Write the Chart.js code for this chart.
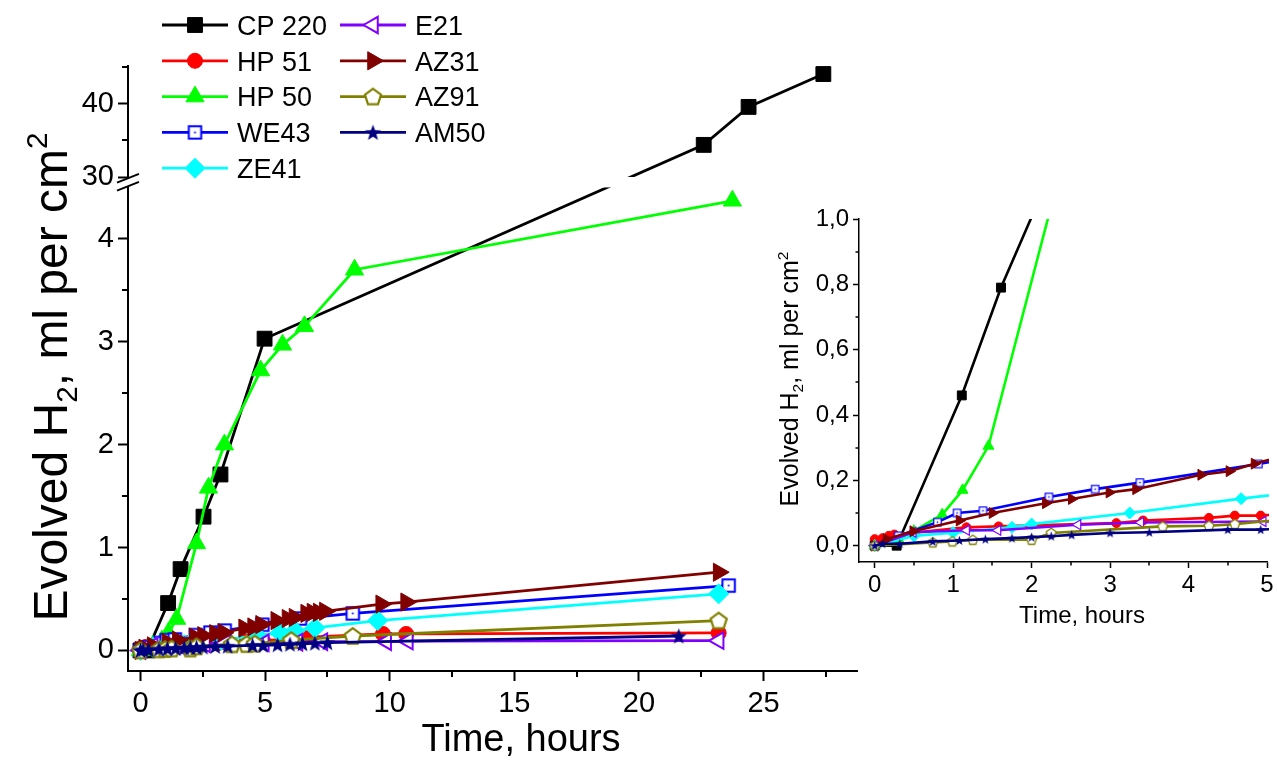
<!DOCTYPE html>
<html>
<head>
<meta charset="utf-8">
<script src="https://cdn.jsdelivr.net/npm/chart.js@4.4.1/dist/chart.umd.min.js"></script>
<style>
  html, body { margin: 0; padding: 0; background: #fff; }
  #wrap { position: relative; width: 1277px; height: 761px; overflow: hidden; }
  #mainChart { position: absolute; left: 0; top: 0; }
  #insetChart { position: absolute; left: 770px; top: 190px; }
</style>
</head>
<body>
<div id="wrap">
  <canvas id="mainChart" width="1277" height="761"></canvas>
  <canvas id="insetChart" width="507" height="450"></canvas>
</div>
<script>
// ==== Data (time in hours, evolved H2 in ml per cm2) ====
const seriesNames = ["CP 220", "HP 51", "HP 50", "WE43", "ZE41", "E21", "AZ31", "AZ91", "AM50"];

const cp220 = [[0, 0], [0.28, 0], [1.11, 0.46], [1.61, 0.79], [2.53, 1.3], [3.21, 1.71], [4.98, 3.03],
  [22.6, 34.4], [24.4, 39.6], [27.4, 44.1]];
const hp51 = [[0, 0.02], [0.1, 0.023], [0.18, 0.03], [0.25, 0.034], [1.17, 0.056], [1.58, 0.059], [3.08, 0.069],
  [3.42, 0.077], [4.26, 0.085], [4.59, 0.092], [4.92, 0.092], [6.7, 0.13], [9.73, 0.16], [10.66, 0.16], [23.2, 0.17]];
const hp50 = [[0, 0], [0.3, 0.02], [0.5, 0.045], [0.86, 0.095], [1.12, 0.17], [1.45, 0.305], [2.25, 1.04],
  [2.73, 1.58], [3.37, 2.0], [4.82, 2.72], [5.7, 2.97], [6.58, 3.15], [8.59, 3.7], [23.75, 4.37]];
const we43 = [[0, 0], [0.3, 0.03], [0.8, 0.072], [1.05, 0.1], [1.38, 0.107], [2.22, 0.149], [2.81, 0.173],
  [3.38, 0.193], [4.89, 0.25], [6.4, 0.31], [8.52, 0.36], [23.6, 0.63]];
const ze41 = [[0, 0], [0.5, 0.03], [1.0, 0.04], [1.75, 0.056], [2.0, 0.066], [3.25, 0.1], [4.67, 0.144],
  [5.6, 0.17], [6.2, 0.19], [7.0, 0.22], [9.52, 0.29], [23.2, 0.55]];
const e21 = [[0, 0], [0.49, 0.041], [1.17, 0.047], [1.57, 0.047], [2.59, 0.064], [3.39, 0.071], [4.95, 0.074],
  [6.3, 0.08], [7.3, 0.085], [9.86, 0.085], [10.73, 0.09], [23.2, 0.095]];
const az31 = [[0, 0], [0.15, 0.02], [0.49, 0.044], [1.08, 0.077], [1.5, 0.1], [2.18, 0.13], [2.51, 0.143],
  [2.99, 0.163], [3.33, 0.173], [4.16, 0.217], [4.52, 0.228], [4.84, 0.251], [5.45, 0.29], [5.9, 0.31],
  [6.18, 0.32], [6.65, 0.36], [6.9, 0.37], [7.15, 0.37], [7.4, 0.38], [9.66, 0.45], [10.66, 0.47], [23.2, 0.76]];
const az91 = [[0, 0], [0.74, 0.01], [0.99, 0.013], [1.25, 0.018], [2.0, 0.018], [2.25, 0.039], [3.67, 0.059],
  [4.26, 0.061], [4.59, 0.066], [6.05, 0.1], [8.52, 0.14], [23.2, 0.29]];
const am50 = [[0, 0], [0.1, 0.006], [0.32, 0.006], [0.74, 0.013], [1.08, 0.016], [1.41, 0.02], [1.75, 0.023],
  [2.0, 0.026], [2.25, 0.029], [2.51, 0.033], [3.0, 0.039], [3.5, 0.041], [4.5, 0.049], [4.92, 0.049],
  [5.5, 0.055], [6.0, 0.06], [6.5, 0.065], [7.0, 0.07], [7.5, 0.075], [21.6, 0.14]];

const seriesData = [cp220, hp51, hp50, we43, ze41, e21, az31, az91, am50];

// ==== Axes ====
const xMainTicks = [0, 5, 10, 15, 20, 25];
const xMainMinor = [2.5, 7.5, 12.5, 17.5, 22.5, 27.5];
const yMainTicks = [0, 1, 2, 3, 4, 30, 40];
const yMainMinor = [0.5, 1.5, 2.5, 3.5, 35, 45];
const yBreak = [4.5, 30];          // axis jumps from 4.5 to 30
const breakShare = [0.7993, 0.0172]; // share of axis height: lower part, gap

const xInsetTicks = [0, 1, 2, 3, 4, 5];
const xInsetMinor = [0.5, 1.5, 2.5, 3.5, 4.5];
const yInsetTicks = [0, 0.2, 0.4, 0.6, 0.8, 1.0];
const yInsetMinor = [0.1, 0.3, 0.5, 0.7, 0.9];

// ==== Styles ====
const FONT = "'Liberation Sans', Arial, sans-serif";
Chart.defaults.font.family = FONT;
Chart.defaults.color = "#000";

const colors = ["#000000", "#ff0000", "#00ff00", "#0000ff", "#00ffff", "#8000ff", "#800000", "#808000", "#000080"];

function makeMarker(kind, r, lw, color) {
  const c = document.createElement("canvas");
  const size = Math.ceil(2 * r + lw + 4);
  c.width = c.height = size;
  const g = c.getContext("2d");
  const m = size / 2;
  g.lineWidth = lw;
  g.strokeStyle = color;
  g.fillStyle = "#fff";
  if (kind === "dotSquare") {
    g.fillRect(m - r, m - r, 2 * r, 2 * r);
    g.strokeRect(m - r, m - r, 2 * r, 2 * r);
    g.fillStyle = color;
    const d = Math.max(1.5, r * 0.28);
    g.fillRect(m - d / 2, m - d / 2, d, d);
  } else if (kind === "pentagon") {
    g.beginPath();
    for (let k = 0; k < 5; k++) {
      const a = -Math.PI / 2 + k * 2 * Math.PI / 5;
      g.lineTo(m + r * Math.cos(a), m + r * Math.sin(a) + r * 0.08);
    }
    g.closePath();
    g.fill();
    g.stroke();
  } else if (kind === "star") {
    g.fillStyle = color;
    g.beginPath();
    for (let k = 0; k < 10; k++) {
      const a = -Math.PI / 2 + k * Math.PI / 5;
      const rr = k % 2 === 0 ? r : r * 0.42;
      g.lineTo(m + rr * Math.cos(a), m + rr * Math.sin(a) + r * 0.08);
    }
    g.closePath();
    g.fill();
  }
  return c;
}

// marker look per series
function markerSet(scale) {
  const lw = 2 * scale;
  return [
    { style: "rect", r: 10.5 * scale, rot: 0, fill: colors[0], bw: 1 },
    { style: "circle", r: 7.5 * scale, rot: 0, fill: colors[1], bw: 1 },
    { style: "triangle", r: 10.5 * scale, rot: 0, fill: colors[2], bw: 1 },
    { style: makeMarker("dotSquare", 6.2 * scale, lw, colors[3]), r: 7 * scale, rot: 0, fill: "#fff", bw: 0 },
    { style: "rectRot", r: 10 * scale, rot: 0, fill: colors[4], bw: 1 },
    { style: "triangle", r: 9.5 * scale, rot: -90, fill: "#fff", bw: lw },
    { style: "triangle", r: 10.5 * scale, rot: 90, fill: colors[6], bw: 1 },
    { style: makeMarker("pentagon", 8.5 * scale, lw * 1.1, colors[7]), r: 8 * scale, rot: 0, fill: "#fff", bw: 0 },
    { style: makeMarker("star", 8.5 * scale, 0, colors[8]), r: 8 * scale, rot: 0, fill: colors[8], bw: 0 }
  ];
}

function buildDatasets(scale, lineWidth, clip) {
  const marks = markerSet(scale);
  return seriesData.map((pts, i) => ({
    label: seriesNames[i],
    data: pts.map(p => ({ x: p[0], y: p[1] })),
    borderColor: colors[i],
    borderWidth: lineWidth,
    backgroundColor: marks[i].fill,
    pointStyle: marks[i].style,
    pointRadius: marks[i].r,
    pointRotation: marks[i].rot,
    pointBackgroundColor: marks[i].fill,
    pointBorderColor: colors[i],
    pointBorderWidth: marks[i].bw,
    tension: 0,
    clip: clip,
    order: seriesData.length - 1 - i
  }));
}

// ==== Broken y scale for the main chart ====
class BrokenScale extends Chart.LinearScale {
  static id = "broken";
  buildTicks() {
    return yMainTicks.map(v => ({ value: v }));
  }
  _fraction(v) {
    const lo = yBreak[0], hi = yBreak[1];
    const fLow = breakShare[0], fGap = breakShare[1];
    if (v <= lo) return (v - this.min) / (lo - this.min) * fLow;
    if (v >= hi) return fLow + fGap + (v - hi) / (this.max - hi) * (1 - fLow - fGap);
    return fLow + (v - lo) / (hi - lo) * fGap;
  }
  getPixelForValue(v) {
    if (v === null || v === undefined || isNaN(v)) return NaN;
    return this.bottom - this._fraction(v) * (this.bottom - this.top);
  }
  getValueForPixel(p) {
    const f = (this.bottom - p) / (this.bottom - this.top);
    const lo = yBreak[0], hi = yBreak[1];
    const fLow = breakShare[0], fGap = breakShare[1];
    if (f <= fLow) return this.min + f / fLow * (lo - this.min);
    if (f >= fLow + fGap) return hi + (f - fLow - fGap) / (1 - fLow - fGap) * (this.max - hi);
    return lo + (f - fLow) / fGap * (hi - lo);
  }
}
Chart.register(BrokenScale);

// ==== Decorations: minor ticks, axis break, titles, legend ====
function drawRich(ctx, t) {
  const small = t.size * 0.62;
  ctx.save();
  ctx.translate(t.x, t.y);
  ctx.rotate(t.rot || 0);
  ctx.fillStyle = "#000";
  ctx.textAlign = "left";
  ctx.textBaseline = "alphabetic";
  const widths = t.parts.map(p => {
    ctx.font = `${p.sub || p.sup ? small : t.size}px ${FONT}`;
    return ctx.measureText(p.text).width;
  });
  let x = -widths.reduce((a, b) => a + b, 0) / 2;
  const base = t.size * 0.36;
  t.parts.forEach((p, i) => {
    ctx.font = `${p.sub || p.sup ? small : t.size}px ${FONT}`;
    const dy = p.sub ? t.size * 0.2 : p.sup ? -t.size * 0.42 : 0;
    ctx.fillText(p.text, x, base + dy);
    x += widths[i];
  });
  ctx.restore();
}

const yTitleParts = [
  { text: "Evolved H" }, { text: "2", sub: true }, { text: ", ml per cm" }, { text: "2", sup: true }
];
const xTitleParts = [{ text: "Time, hours" }];

const decor = {
  id: "decor",
  afterDatasetsDraw(chart, args, o) {
    if (!o.broken) return;
    const ctx = chart.ctx, ys = chart.scales.y, ca = chart.chartArea;
    const pLow = ys.getPixelForValue(yBreak[0]);
    const pHigh = ys.getPixelForValue(yBreak[1]);
    const mid = (pLow + pHigh) / 2;
    ctx.save();
    ctx.fillStyle = "#fff";
    ctx.fillRect(ca.left + 2, pHigh, ca.right - ca.left, pLow - pHigh);
    // gap in the axis line between two slanted strokes
    const ax = ca.left, half = 11, slope = 0.4, gap = 4;
    ctx.beginPath();
    ctx.moveTo(ax - half, mid - gap + half * slope);
    ctx.lineTo(ax + half, mid - gap - half * slope);
    ctx.lineTo(ax + half, mid + gap - half * slope);
    ctx.lineTo(ax - half, mid + gap + half * slope);
    ctx.closePath();
    ctx.fill();
    ctx.strokeStyle = "#000";
    ctx.lineWidth = 2;
    [-gap, gap].forEach(d => {
      ctx.beginPath();
      ctx.moveTo(ax - half, mid + d + half * slope);
      ctx.lineTo(ax + half, mid + d - half * slope);
      ctx.stroke();
    });
    ctx.restore();
  },
  afterDraw(chart, args, o) {
    const ctx = chart.ctx, xs = chart.scales.x, ys = chart.scales.y;
    ctx.save();
    ctx.strokeStyle = "#000";
    ctx.lineWidth = o.tickWidth;
    o.xMinor.forEach(v => {
      const px = Math.round(xs.getPixelForValue(v));
      ctx.beginPath();
      ctx.moveTo(px, xs.top);
      ctx.lineTo(px, xs.top + o.minorLen);
      ctx.stroke();
    });
    o.yMinor.forEach(v => {
      const py = Math.round(ys.getPixelForValue(v));
      ctx.beginPath();
      ctx.moveTo(ys.right - o.minorLen, py);
      ctx.lineTo(ys.right, py);
      ctx.stroke();
    });
    ctx.restore();

    o.titles.forEach(t => drawRich(ctx, t));

    if (o.legend) {
      const L = o.legend;
      chart.data.datasets.forEach((ds, i) => {
        const col = Math.floor(i / L.perCol), row = i % L.perCol;
        const x0 = L.x[col], y = L.y0 + row * L.dy;
        ctx.save();
        ctx.strokeStyle = ds.borderColor;
        ctx.lineWidth = ds.borderWidth;
        ctx.beginPath();
        ctx.moveTo(x0, y);
        ctx.lineTo(x0 + L.lineLen, y);
        ctx.stroke();
        ctx.fillStyle = ds.pointBackgroundColor;
        ctx.strokeStyle = ds.pointBorderColor;
        ctx.lineWidth = ds.pointBorderWidth;
        Chart.helpers.drawPoint(ctx, {
          pointStyle: ds.pointStyle, radius: ds.pointRadius,
          rotation: ds.pointRotation, borderWidth: ds.pointBorderWidth
        }, x0 + L.lineLen / 2, y);
        ctx.fillStyle = "#000";
        ctx.font = `${L.size}px ${FONT}`;
        ctx.textBaseline = "alphabetic";
        ctx.fillText(ds.label, x0 + L.lineLen + L.textGap, y + L.size * 0.36);
        ctx.restore();
      });
    }
  }
};

// ==== Main chart ====
new Chart(document.getElementById("mainChart"), {
  type: "line",
  data: { datasets: buildDatasets(1, 2.8, false) },
  plugins: [decor],
  options: {
    responsive: false,
    animation: false,
    events: [],
    layout: { padding: { top: 66, right: 420, left: 0, bottom: 0 } },
    scales: {
      x: {
        type: "linear", min: -0.5, max: 28.75,
        afterBuildTicks: s => { s.ticks = xMainTicks.map(v => ({ value: v })); },
        afterFit: s => { s.height = 90; },
        grid: { drawOnChartArea: false, tickLength: 10, tickWidth: 2, tickColor: "#000" },
        border: { color: "#000", width: 2 },
        ticks: { font: { size: 29 }, padding: 6, autoSkip: false, maxRotation: 0, callback: v => String(v) }
      },
      y: {
        type: "broken", min: -0.2, max: 45.2,
        afterFit: s => { s.width = 128; },
        grid: { drawOnChartArea: false, tickLength: 10, tickWidth: 2, tickColor: "#000" },
        border: { color: "#000", width: 2 },
        ticks: { font: { size: 29 }, padding: 4, autoSkip: false, callback: v => String(v) }
      }
    },
    plugins: {
      legend: { display: false },
      tooltip: { enabled: false },
      decor: {
        broken: true,
        xMinor: xMainMinor, yMinor: yMainMinor, minorLen: 6, tickWidth: 2,
        titles: [
          { parts: xTitleParts, x: 521, y: 737, size: 38 },
          { parts: yTitleParts, x: 50, y: 377, size: 48, rot: -Math.PI / 2 }
        ],
        legend: { x: [162, 340], y0: 25, dy: 35.8, perCol: 5, lineLen: 66, textGap: 9, size: 27 }
      }
    }
  }
});

// ==== Inset chart (first 5 hours) ====
new Chart(document.getElementById("insetChart"), {
  type: "line",
  data: { datasets: buildDatasets(0.6, 2.6, { left: 8, right: 2, top: 0, bottom: 8 }) },
  plugins: [decor],
  options: {
    responsive: false,
    animation: false,
    events: [],
    layout: { padding: { top: 29, right: 10, left: 0, bottom: 0 } },
    scales: {
      x: {
        type: "linear", min: -0.2, max: 5,
        afterBuildTicks: s => { s.ticks = xInsetTicks.map(v => ({ value: v })); },
        afterFit: s => { s.height = 78; },
        grid: { drawOnChartArea: false, tickLength: 6, tickWidth: 1.5, tickColor: "#000" },
        border: { color: "#000", width: 1.5 },
        ticks: { font: { size: 24 }, padding: 3, autoSkip: false, maxRotation: 0, callback: v => String(v) }
      },
      y: {
        type: "linear", min: -0.05, max: 1.0,
        afterBuildTicks: s => { s.ticks = yInsetTicks.map(v => ({ value: v })); },
        afterFit: s => { s.width = 89; },
        grid: { drawOnChartArea: false, tickLength: 6, tickWidth: 1.5, tickColor: "#000" },
        border: { color: "#000", width: 1.5 },
        ticks: { font: { size: 24 }, padding: 4, autoSkip: false, callback: v => v.toFixed(1).replace(".", ",") }
      }
    },
    plugins: {
      legend: { display: false },
      tooltip: { enabled: false },
      decor: {
        broken: false,
        xMinor: xInsetMinor, yMinor: yInsetMinor, minorLen: 3.5, tickWidth: 1.5,
        titles: [
          { parts: xTitleParts, x: 312, y: 424, size: 24 },
          { parts: yTitleParts, x: 19, y: 189, size: 25, rot: -Math.PI / 2 }
        ],
        legend: null
      }
    }
  }
});
</script>
</body>
</html>
